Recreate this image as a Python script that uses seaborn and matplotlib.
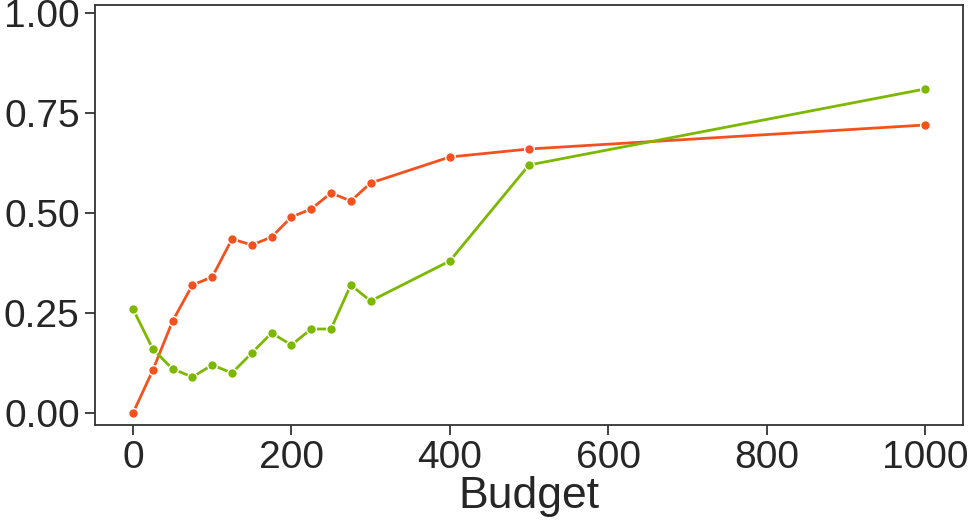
import matplotlib
matplotlib.use("Agg")
import matplotlib.pyplot as plt
import seaborn as sns
import pandas as pd

budget = [0, 25, 50, 75, 100, 125, 150, 175, 200, 225, 250, 275, 300, 400, 500, 1000]
series_red = [0.00, 0.107, 0.23, 0.32, 0.34, 0.435, 0.42, 0.44, 0.49, 0.51, 0.55, 0.53, 0.575, 0.64, 0.66, 0.72]
series_green = [0.26, 0.16, 0.11, 0.09, 0.12, 0.10, 0.15, 0.20, 0.17, 0.21, 0.21, 0.32, 0.28, 0.38, 0.62, 0.81]
series_names = ["A", "B"]
colors = ["#F4511E", "#7CB800"]

df = pd.DataFrame({
    "Budget": budget * 2,
    "value": series_red + series_green,
    "series": [series_names[0]] * len(budget) + [series_names[1]] * len(budget),
})

sns.set_theme(style="ticks")
plt.rcParams["font.family"] = ["Liberation Sans", "DejaVu Sans"]

fig = plt.figure(figsize=(9.69, 5.25), dpi=100)
ax = fig.add_axes([95 / 969, 1 - 425 / 525, (963 - 95) / 969, (425 - 5) / 525])

sns.lineplot(data=df, x="Budget", y="value", hue="series", palette=colors,
             marker="o", markersize=7, markeredgecolor="white", markeredgewidth=1,
             linewidth=2, ax=ax, legend=False)

ax.set_xlim(-48, 1048)
ax.set_ylim(-0.03, 1.02)
ax.set_xticks([0, 200, 400, 600, 800, 1000])
ax.set_yticks([0, 0.25, 0.5, 0.75, 1.0])
ax.set_yticklabels(["0.00", "0.25", "0.50", "0.75", "1.00"])
ax.tick_params(labelsize=28, length=7, width=1.3, colors="#333333", labelcolor="#262626", pad=4)
ax.set_xlabel("Budget", fontsize=32, color="#262626", labelpad=0)
ax.set_ylabel("")
for s in ax.spines.values():
    s.set_color("#333333")
    s.set_linewidth(1.3)

fig.savefig("out.png", dpi=100)
